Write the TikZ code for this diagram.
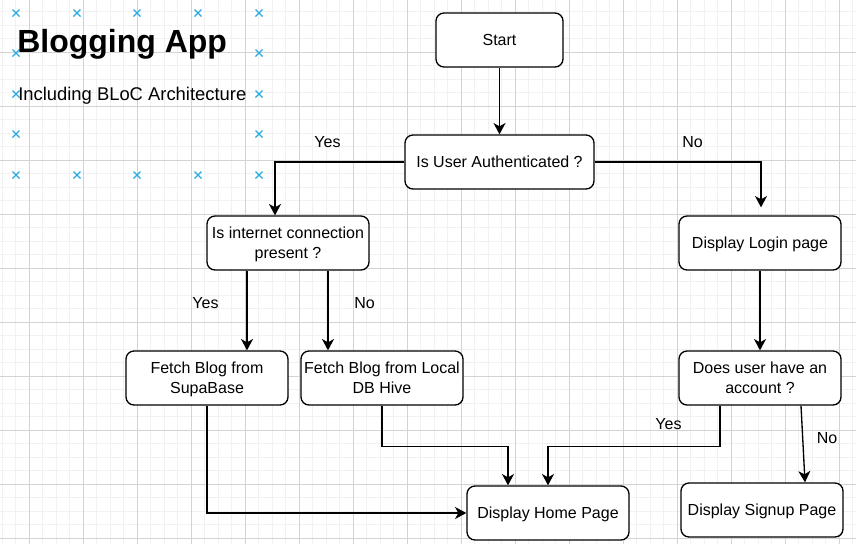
\documentclass[tikz,border=0pt]{standalone}
\usepackage{fontspec}
\setmainfont{Liberation Sans}
\usetikzlibrary{arrows.meta,calc}
\definecolor{minorgrid}{HTML}{F1F1F1}
\definecolor{majorgrid}{HTML}{D3D3D3}
\definecolor{handleblue}{RGB}{41,170,225}
\tikzset{
  box/.style={draw=black, line width=1pt, rounded corners=6pt, fill=white,
    minimum width=121.5pt, minimum height=40.5pt, inner xsep=1pt, inner ysep=0pt,
    align=center, text depth=0pt, font=\fontsize{12}{15}\selectfont},
  arr/.style={draw=black, line width=1pt, -{Stealth[length=8.5pt,width=9pt,inset=2.5pt]}},
  plain/.style={draw=black, line width=1pt},
  lbl/.style={font=\fontsize{12}{15}\selectfont, inner sep=0pt, text depth=0pt},
  handle/.style={draw=handleblue, line width=0.9pt},
}
\begin{document}
\begin{tikzpicture}[x=0.75pt,y=-0.75pt]
\useasboundingbox (0,0) rectangle (856,544);
\fill[white] (0,0) rectangle (856,544);
% grid
\foreach \i in {0,...,63} \draw[minorgrid, line width=0.75pt] ({2.3+13.5*\i},0) -- ({2.3+13.5*\i},544);
\foreach \j in {0,...,40} \draw[minorgrid, line width=0.75pt] (0,{-1.7+13.5*\j}) -- (856,{-1.7+13.5*\j});
\foreach \i in {0,...,15} \draw[majorgrid, line width=0.75pt] ({29.3+54*\i},0) -- ({29.3+54*\i},544);
\foreach \j in {1,...,10} \draw[majorgrid, line width=0.75pt] (0,{-1.7+54*\j}) -- (856,{-1.7+54*\j});
% selection handles
\foreach \p in {(16,13),(77,13),(137,13),(198,13),(259,13),(16,53),(259,53),(16,94),(259,94),(16,134),(259,134),(16,175),(77,175),(137,175),(198,175),(259,175)}
  \draw[handle] \p +(-3.5,-3.5) -- +(3.5,3.5) \p +(-3.5,3.5) -- +(3.5,-3.5);
% title
\node[anchor=base west, inner sep=0pt, font=\fontsize{24}{28}\selectfont\bfseries] (title) at (17,52) {Blogging App};
\node[anchor=base west, inner sep=0pt, font=\fontsize{13.8}{16}\selectfont] (subtitle) at (18,100) {Including BLoC Architecture};
% nodes
\node[box, minimum width=95.25pt] (start) at (499.5,40) {Start};
\node[box, minimum width=141.75pt] (auth) at (499.5,162) {Is User Authenticated ?};
\node[box] (inet) at (288,243) {Is internet connection\\present ?};
\node[box] (supa) at (207,378) {Fetch Blog from\\SupaBase};
\node[box] (local) at (382,378) {Fetch Blog from Local\\DB Hive};
\node[box] (home) at (548,513) {Display Home Page};
\node[box] (login) at (760,243) {Display Login page};
\node[box] (acct) at (760,378) {Does user have an\\account ?};
\node[box] (signup) at (762,510) {Display Signup Page};
% connectors
\draw[arr] (start.south) -- (auth.north);
\draw[arr] (auth.west) -| ($(inet.north)+(-13,0)$);
\draw[arr] (auth.east) -| ($(login.north)+(1,-8)$);
\draw[arr] ($(inet.south)+(-41,0)$) -- ($(supa.north)+(40,0)$);
\draw[arr] ($(inet.south)+(40,0)$) -- ($(local.north)+(-54,0)$);
\draw[arr] (supa.south) |- (home.west);
\draw[arr] (local.south) -- ++(0,41) -| ($(home.north)+(-40,0)$);
\draw[arr] (login.south) -- (acct.north);
\draw[arr] ($(acct.south)+(-40,0)$) -- ++(0,41) -| (home.north);
\draw[arr] ($(acct.south)+(41,0)$) -- ($(signup.north)+(43,0)$);
% labels
\node[lbl] (yes1) at (327.5,141.5) {Yes};
\node[lbl] (no1) at (692.5,141.5) {No};
\node[lbl] (yes2) at (205.5,302.5) {Yes};
\node[lbl] (no2) at (364.5,302.5) {No};
\node[lbl] (yes3) at (668.5,424) {Yes};
\node[lbl] (no3) at (827,438) {No};
\end{tikzpicture}
\end{document}
